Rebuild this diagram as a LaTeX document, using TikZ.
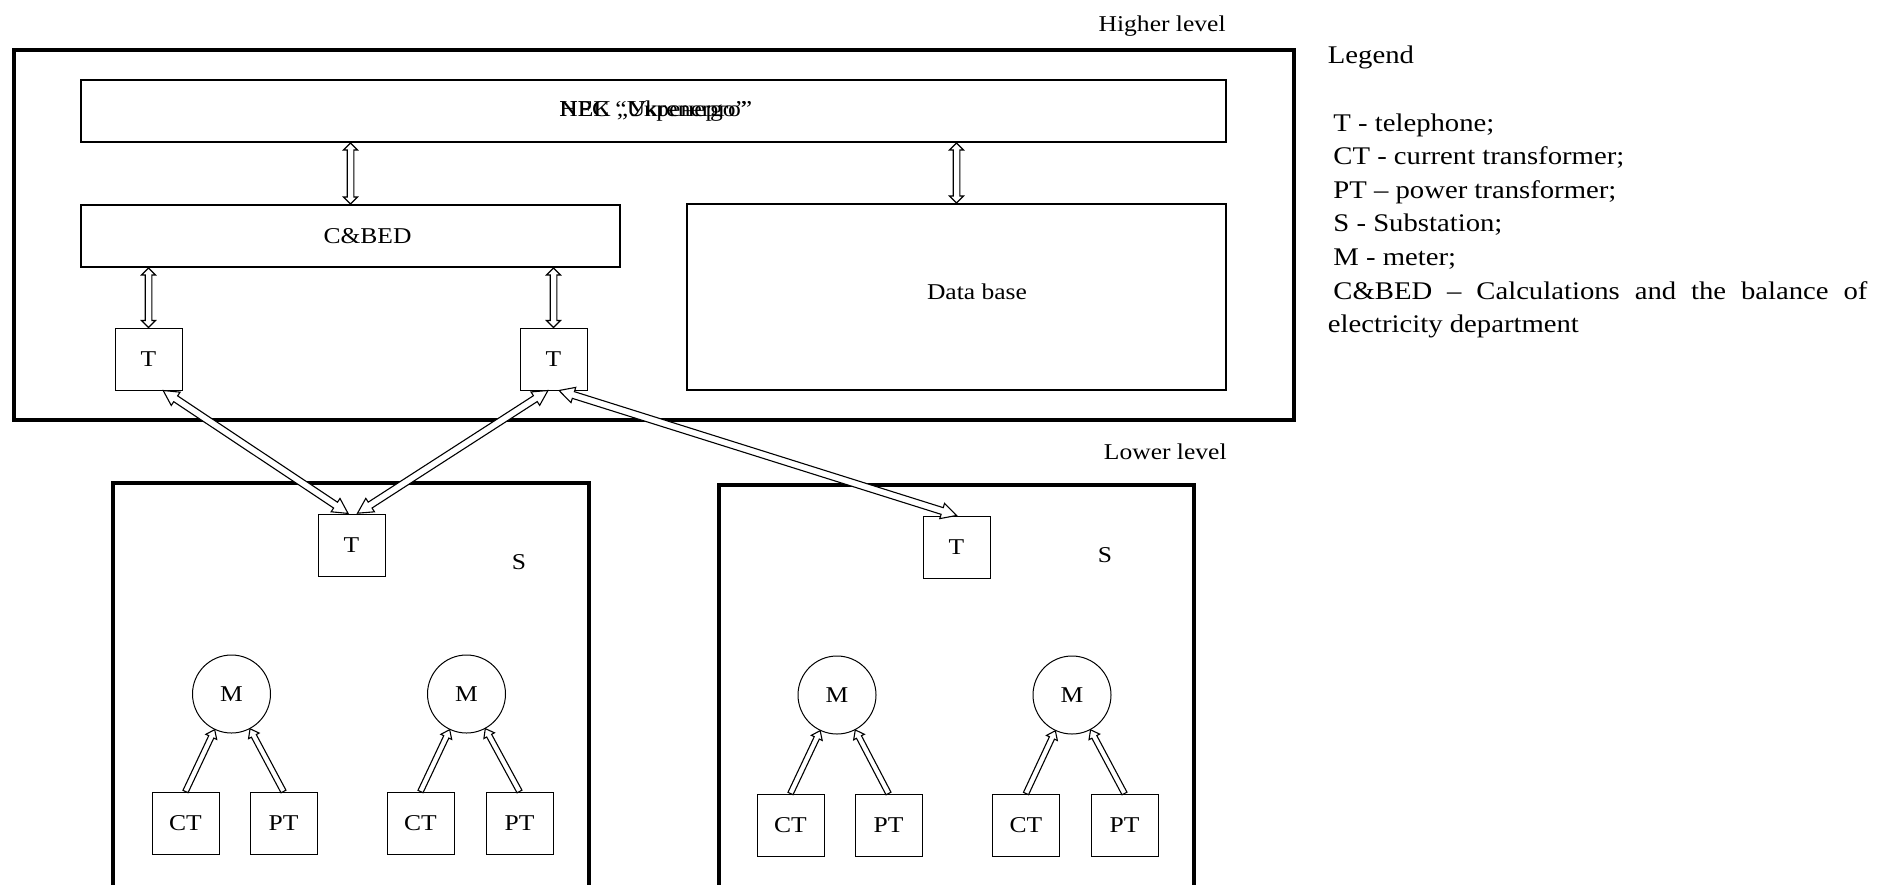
\documentclass[tikz,border=0pt]{standalone}
\usepackage{fontspec}
\setmainfont{Liberation Serif}[FakeStretch=1.13]
\usetikzlibrary{calc}
\newcommand\lblfont{\fontsize{11.3}{13}\selectfont}
\newcommand\legfont{\fontsize{12.7}{15}\selectfont}
% geometry of a block arrow from #1 to #2
\newcommand\arrowgeom[2]{%
  \path let \p1=(#1), \p2=(#2) in
  \pgfextra{\pgfmathsetmacro\BAangl{atan2(\y2-\y1,\x2-\x1)}\pgfmathsetmacro\BAlenl{veclen(\x2-\x1,\y2-\y1)}%
    \xdef\BAx{\x1}\xdef\BAy{\y1}\xdef\BAang{\BAangl}\xdef\BAlen{\BAlenl}};}
% single-headed block arrow: #3 half shaft, #4 half head, #5 head length (pt)
\newcommand\sarrow[5]{\arrowgeom{#1}{#2}%
  \draw[arrowbody, shift={(\BAx,\BAy)}, rotate=\BAang]
  (0pt,-#3pt) -- ({\BAlen pt-#5pt},-#3pt) -- ({\BAlen pt-#5pt},-#4pt) -- (\BAlen pt,0pt)
  -- ({\BAlen pt-#5pt},#4pt) -- ({\BAlen pt-#5pt},#3pt) -- (0pt,#3pt) -- cycle;}
% double-headed block arrow
\newcommand\darrow[5]{\arrowgeom{#1}{#2}%
  \draw[arrowbody, shift={(\BAx,\BAy)}, rotate=\BAang]
  (0pt,0pt) -- (#5pt,#4pt) -- (#5pt,#3pt) -- ({\BAlen pt-#5pt},#3pt) -- ({\BAlen pt-#5pt},#4pt)
  -- (\BAlen pt,0pt) -- ({\BAlen pt-#5pt},-#4pt) -- ({\BAlen pt-#5pt},-#3pt) -- (#5pt,-#3pt)
  -- (#5pt,-#4pt) -- cycle;}
\tikzset{
  thickbox/.style={draw, line width=2pt, inner sep=0},
  midbox/.style={draw, line width=1pt, inner sep=0, font=\lblfont},
  thinbox/.style={draw, line width=0.5pt, inner sep=0, minimum width=33.5pt, minimum height=31pt, font=\lblfont},
  meter/.style={draw, circle, line width=0.5pt, minimum size=39pt, inner sep=0, font=\lblfont},
  lbl/.style={inner sep=0, font=\lblfont},
  leg/.style={inner sep=0, font=\legfont, anchor=base west},
  arrowbody/.style={draw, fill=white, line width=0.55pt, line join=miter},
  border/.style={line width=2pt},
}
\begin{document}
\begin{tikzpicture}[x=0.5pt, y=-0.5pt]
\useasboundingbox (0,0) rectangle (1877,884);

% ---------- higher level ----------
\node[thickbox, minimum width=640pt, minimum height=185pt] (upper) at (654,235) {};
\node[midbox, minimum width=572.5pt, minimum height=31pt] (NPC) at (653.5,111) {};
\node[midbox, minimum width=269.5pt, minimum height=31pt] (CB) at (350.5,236) {};
\node[midbox, minimum width=269.5pt, minimum height=93pt] (DB) at (956.5,297) {};
\node[thinbox] (TUL) at (148.5,359) {T};
\node[thinbox] (TUR) at (553.5,359) {T};

% ---------- lower level ----------
\draw[border] (113,886) |- (589,483) -- (589,886);
\draw[border] (719,886) |- (1194,485) -- (1194,886);
\node[thinbox] (LT1) at (351.5,545) {T};
\node[thinbox] (LT2) at (956.5,547) {T};

\node[meter] (M1) at (231.5,694) {M};
\node[meter] (M2) at (466.5,694) {M};
\node[meter] (M3) at (837,695) {M};
\node[meter] (M4) at (1072,695) {M};

\node[thinbox] (CT1) at (185.5,823) {CT};
\node[thinbox] (PT1) at (283.5,823) {PT};
\node[thinbox] (CT2) at (420.5,823) {CT};
\node[thinbox] (PT2) at (519.5,823) {PT};
\node[thinbox] (CT3) at (790.5,825) {CT};
\node[thinbox] (PT3) at (888.5,825) {PT};
\node[thinbox] (CT4) at (1026,825) {CT};
\node[thinbox] (PT4) at (1124.5,825) {PT};

% ---------- connectors ----------
\darrow{CB.north |- NPC.south}{CB.north}{1.65}{3.5}{3.5}
\darrow{DB.north |- NPC.south}{DB.north}{1.65}{3.5}{3.5}
\darrow{TUL.north |- CB.south}{TUL.north}{1.65}{3.5}{3.5}
\darrow{TUR.north |- CB.south}{TUR.north}{1.65}{3.5}{3.5}

\darrow{TUL.-65}{LT1.96}{1.75}{4}{7.5}
\darrow{TUR.-100}{LT1.80}{1.75}{4}{7.5}
\darrow{TUR.-80}{LT2.north}{1.75}{4}{7.5}

\sarrow{CT1.north}{$(M1)!19.7pt!(CT1.north)$}{1.4}{3}{4}
\sarrow{PT1.north}{$(M1)!19.7pt!(PT1.north)$}{1.4}{3}{4}
\sarrow{CT2.north}{$(M2)!19.7pt!(CT2.north)$}{1.4}{3}{4}
\sarrow{PT2.north}{$(M2)!19.7pt!(PT2.north)$}{1.4}{3}{4}
\sarrow{CT3.north}{$(M3)!19.7pt!(CT3.north)$}{1.4}{3}{4}
\sarrow{PT3.north}{$(M3)!19.7pt!(PT3.north)$}{1.4}{3}{4}
\sarrow{CT4.north}{$(M4)!19.7pt!(CT4.north)$}{1.4}{3}{4}
\sarrow{PT4.north}{$(M4)!19.7pt!(PT4.north)$}{1.4}{3}{4}

% ---------- texts ----------
\node[lbl, anchor=west] (npcen) at (559,111) {NPC “Ukrenergo”};
\node[lbl, anchor=west] (npcua) at (559,111) {НЕК „Укренерго”};
\node[lbl] (cbtxt) at (367.5,236) {C\&BED};
\node[lbl] (dbtxt) at (977,292) {Data base};
\node[lbl, anchor=base east] (hl) at (1226,31) {Higher level};
\node[lbl, anchor=base east] (ll) at (1227,459) {Lower level};
\node[lbl] (S1) at (519,562) {S};
\node[lbl] (S2) at (1105,555) {S};

% ---------- legend ----------
\node[leg] (lg0) at (1327.5,63) {Legend};
\node[leg] (lg1) at (1333,131) {T - telephone;};
\node[leg] (lg2) at (1333,164.6) {CT - current transformer;};
\node[leg] (lg3) at (1333,198.2) {PT – power transformer;};
\node[leg] (lg4) at (1333,231.8) {S - Substation;};
\node[leg] (lg5) at (1333,265.4) {M - meter;};
\node[leg] (lg6) at (1333,299) {\makebox[267pt][s]{C\&BED – Calculations and the balance of}};
\node[leg] (lg7) at (1327.5,332.6) {electricity department};
\end{tikzpicture}
\end{document}
